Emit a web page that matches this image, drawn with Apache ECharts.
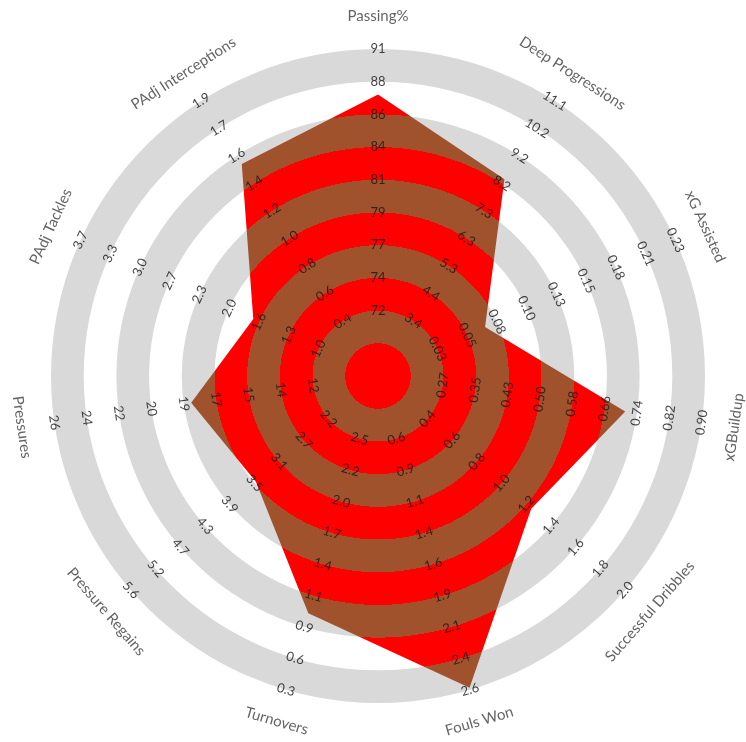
<!DOCTYPE html>
<html>
<head>
<meta charset="utf-8">
<title>Player radar</title>
<script src="https://cdn.jsdelivr.net/npm/echarts@6/dist/echarts.min.js"></script>
<style>
	* { margin: 0; padding: 0; border: 0; }
	html, body { width: 100%; height: 100%; background: #fff; }
	#main { width: 746px; height: 742px; }
</style>
</head>
<body>
<div id="main"></div>
<script>
	// axes, clockwise from the top
	var axisNames = ['Passing%', 'Deep Progressions', 'xG Assisted', 'xGBuildup', 'Successful Dribbles',
		'Fouls Won', 'Turnovers', 'Pressure Regains', 'Pressures', 'PAdj Tackles', 'PAdj Interceptions'];

	// ring labels, from inner ring outwards
	var ringLabels = [
		['72', '74', '77', '79', '81', '84', '86', '88', '91'],
		['3.4', '4.4', '5.3', '6.3', '7.3', '8.2', '9.2', '10.2', '11.1'],
		['0.03', '0.05', '0.08', '0.10', '0.13', '0.15', '0.18', '0.21', '0.23'],
		['0.27', '0.35', '0.43', '0.50', '0.58', '0.66', '0.74', '0.82', '0.90'],
		['0.4', '0.6', '0.8', '1.0', '1.2', '1.4', '1.6', '1.8', '2.0'],
		['0.6', '0.9', '1.1', '1.4', '1.6', '1.9', '2.1', '2.4', '2.6'],
		['2.5', '2.2', '2.0', '1.7', '1.4', '1.1', '0.9', '0.6', '0.3'],
		['2.2', '2.7', '3.1', '3.5', '3.9', '4.3', '4.7', '5.2', '5.6'],
		['12', '14', '15', '17', '19', '20', '22', '24', '26'],
		['1.0', '1.3', '1.6', '2.0', '2.3', '2.7', '3.0', '3.3', '3.7'],
		['0.4', '0.6', '0.8', '1.0', '1.2', '1.4', '1.6', '1.7', '1.9']
	];

	// player values
	var playerValues = [87.7, 8.36, 0.070, 0.714, 1.24, 2.585, 0.97, 3.45, 18.6, 1.74, 1.47];

	var CX = 378, CY = 376, R = 327;
	var RED = '#ff0000', BROWN = '#a0522d';
	var N = axisNames.length;

	// value -> ring position (first label sits on ring 2, last on ring 10)
	function toRing(v, i)
	{
		var lo = parseFloat(ringLabels[i][0]);
		var hi = parseFloat(ringLabels[i][ringLabels[i].length - 1]);
		return 2 + 8 * (v - lo) / (hi - lo);
	}
	// text turns with the circle, flipped on the lower half
	function textRot(i)
	{
		var a = i * 360 / N;
		if (a <= 90 || a >= 270) return -a;
		return 180 - a;
	}

	// radar goes anticlockwise, so feed it the axes in reverse after the first
	var order = [0];
	for (var i = N - 1; i > 0; i--) order.push(i);

	var indicator = [];
	var radarValues = [];
	for (var k = 0; k < N; k++)
	{
		indicator.push({ name: axisNames[order[k]], min: 0, max: 10 });
		radarValues.push(toRing(playerValues[order[k]], order[k]));
	}

	var stops = [];
	for (var k = 0; k < 10; k++)
	{
		var c = (k % 2 == 0) ? RED : BROWN;
		stops.push({ offset: k / 10, color: c });
		stops.push({ offset: (k + 1) / 10, color: c });
	}

	var tickData = [];
	for (var i = 0; i < N; i++)
	{
		for (var j = 0; j < ringLabels[i].length; j++)
		{
			tickData.push({ name: ringLabels[i][j], value: [j + 2, i * 360 / N], label: { rotate: textRot(i) } });
		}
	}
	var nameData = [];
	for (var i = 0; i < N; i++)
	{
		nameData.push({ name: axisNames[i], value: [11.0, i * 360 / N], label: { rotate: textRot(i) } });
	}

	var myChart = echarts.init(document.getElementById('main'));
	var option = {
		backgroundColor: '#fff',
		animation: false,
		textStyle: { fontFamily: 'Lato' },
		radar: {
			center: [CX, CY],
			radius: R,
			startAngle: 90,
			shape: 'circle',
			splitNumber: 10,
			indicator: indicator,
			axisName: { show: false },
			axisLine: { show: false },
			axisTick: { show: false },
			axisLabel: { show: false },
			splitLine: { show: false },
			splitArea: {
				show: true,
				areaStyle: { color: ['#ffffff', '#d9d9d9'] }
			}
		},
		polar: {
			center: [CX, CY],
			radius: R * 11 / 10
		},
		angleAxis: {
			type: 'value', min: 0, max: 360, startAngle: 90, clockwise: true,
			axisLine: { show: false }, axisTick: { show: false }, axisLabel: { show: false },
			splitLine: { show: false }
		},
		radiusAxis: {
			type: 'value', min: 0, max: 11,
			axisLine: { show: false }, axisTick: { show: false }, axisLabel: { show: false },
			splitLine: { show: false }
		},
		series: [
			{
				type: 'radar',
				symbol: 'none',
				lineStyle: { width: 0 },
				areaStyle: {
					opacity: 1,
					color: { type: 'radial', x: CX, y: CY, r: R, global: true, colorStops: stops }
				},
				data: [{ value: radarValues }]
			},
			{
				type: 'scatter',
				coordinateSystem: 'polar',
				symbolSize: 0,
				silent: true,
				label: {
					show: true, position: 'inside', formatter: '{b}',
					fontSize: 13, color: '#141414', fontFamily: 'Lato'
				},
				data: tickData
			},
			{
				type: 'scatter',
				coordinateSystem: 'polar',
				symbolSize: 0,
				silent: true,
				label: {
					show: true, position: 'inside', formatter: '{b}',
					fontSize: 15, color: '#3c3c3c', fontFamily: 'Lato'
				},
				data: nameData
			}
		]
	};
	myChart.setOption(option);
</script>
</body>
</html>
